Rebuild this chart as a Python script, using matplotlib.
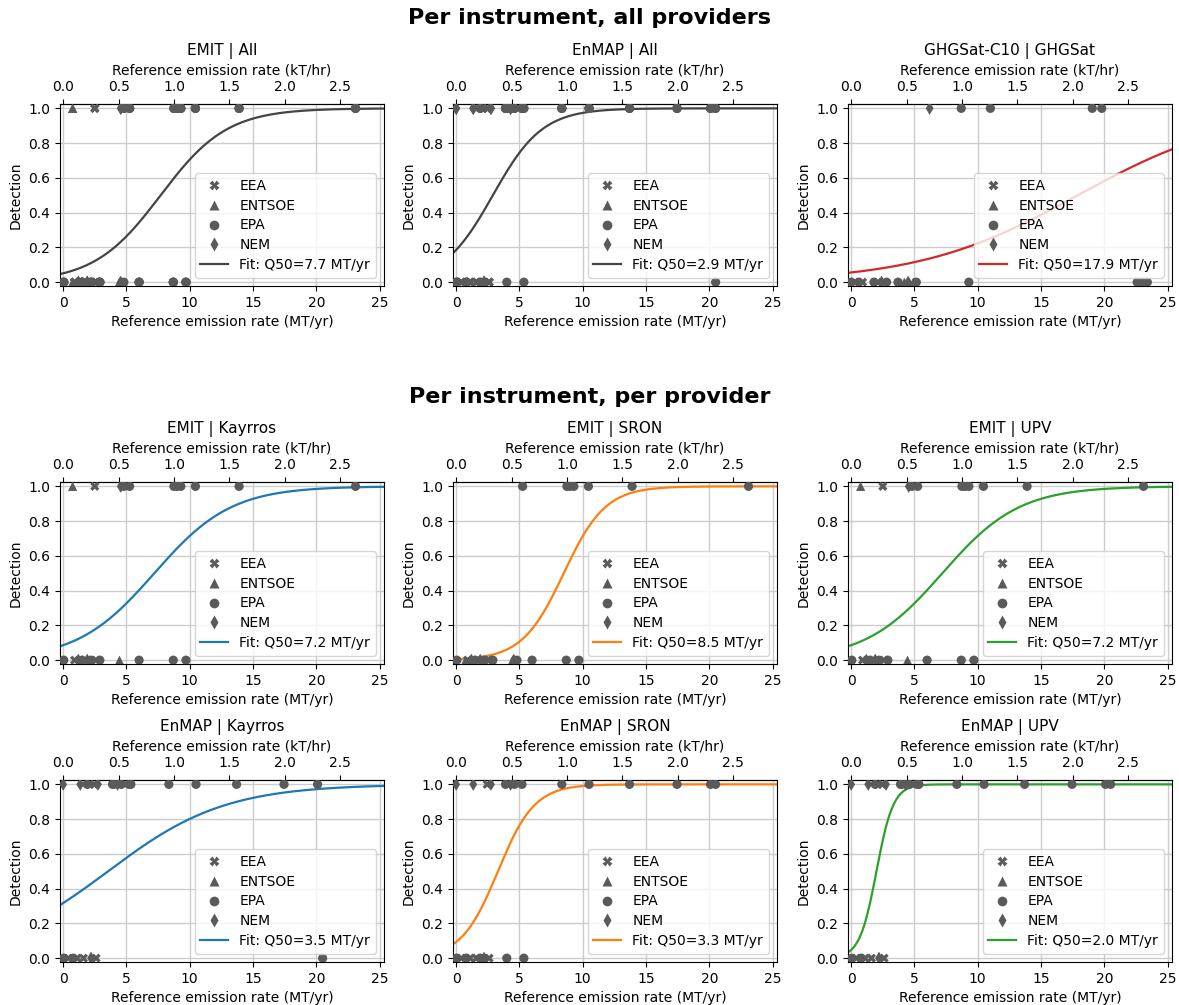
import numpy as np
import matplotlib
matplotlib.use("Agg")
import matplotlib.pyplot as plt
from matplotlib.lines import Line2D

plt.rcParams["font.family"] = ["DejaVu Sans"]
plt.rcParams["font.size"] = 10

# ---------------- data ----------------
SOURCES = ["EEA", "ENTSOE", "EPA", "NEM"]
MARKERS = ["X", "^", "o", "d"]

# EMIT plants: reference emission rate (MT/yr), source, detection per provider
EMIT_X = [0.05, 0.75, 0.9, 1.2, 1.5, 1.7, 1.9, 2.2, 2.5, 2.6, 2.9, 4.45, 4.55, 4.8,
          5.25, 6.0, 8.7, 8.75, 9.0, 9.3, 9.7, 10.45, 13.9, 23.1]
EMIT_SRC = ["EPA", "ENTSOE", "EEA", "NEM", "EPA", "EEA", "NEM", "EPA", "EEA", "EEA", "EPA",
            "ENTSOE", "NEM", "EPA", "EPA", "EPA", "EPA", "EPA", "EPA", "EPA", "EPA",
            "EPA", "EPA", "EPA"]
EMIT_KAYRROS = [0, 1, 0, 0, 0, 0, 0, 0, 1, 0, 0, 0, 1, 1, 1, 0, 0, 1, 1, 1, 0, 1, 1, 1]
EMIT_SRON    = [0, 0, 0, 0, 0, 0, 0, 0, 0, 0, 0, 0, 0, 0, 1, 0, 0, 1, 1, 1, 0, 1, 1, 1]
EMIT_UPV     = [0, 1, 0, 0, 0, 0, 0, 0, 1, 0, 0, 0, 1, 1, 1, 0, 0, 1, 1, 1, 0, 1, 1, 1]

# EnMAP plants
ENMAP_X = [0.0, 0.05, 0.4, 0.8, 1.1, 1.35, 1.6, 1.9, 2.1, 2.2, 2.45, 2.6, 2.75, 3.9,
           4.0, 4.3, 4.6, 5.2, 5.35, 8.35, 10.5, 13.7, 17.45, 20.1, 20.5]
ENMAP_SRC = ["NEM", "EPA", "EEA", "EPA", "EEA", "NEM", "EEA", "EPA", "EEA", "NEM", "EEA",
             "EEA", "NEM", "EPA", "EPA", "NEM", "EPA", "EPA", "EPA", "EPA", "EPA", "EPA",
             "EPA", "EPA", "EPA"]
ENMAP_KAYRROS = [1, 0, 0, 0, 0, 1, 0, 1, 1, 0, 1, 0, 1, 1, 1, 1, 1, 1, 1, 1, 1, 1, 1, 1, 0]
ENMAP_SRON    = [1, 0, 0, 0, 0, 1, 0, 0, 0, 0, 1, 0, 1, 1, 0, 1, 1, 1, 0, 1, 1, 1, 1, 1, 1]
ENMAP_UPV     = [1, 0, 0, 0, 0, 1, 0, 1, 1, 0, 1, 0, 1, 1, 1, 1, 1, 1, 1, 1, 1, 1, 1, 1, 1]

# GHGSat-C10 plants
GHG_X = [0.0, 0.3, 0.6, 0.9, 1.8, 2.1, 2.4, 2.8, 3.7, 4.2, 4.5, 4.9, 5.15, 6.2, 8.7,
         9.3, 11.0, 19.05, 19.8, 22.6, 23.0, 23.4]
GHG_SRC = ["EPA", "EEA", "EPA", "EEA", "EPA", "EEA", "NEM", "EPA", "EPA", "ENTSOE", "NEM",
           "ENTSOE", "EPA", "NEM", "EPA", "EPA", "EPA", "EPA", "EPA", "EPA", "EPA", "EPA"]
GHG_DET = [0, 0, 0, 0, 0, 0, 0, 0, 0, 0, 0, 0, 0, 1, 1, 0, 1, 1, 1, 0, 0, 0]

# fits: label Q50, curve centre and slope
TOP_TITLES = ["EMIT | All", "EnMAP | All", "GHGSat-C10 | GHGSat"]
TOP_Q50 = [7.7, 2.9, 17.9]
TOP_CENTER = [7.7, 2.9, 17.9]
TOP_SLOPE = [0.38, 0.51, 0.158]
TOP_COLORS = ["#444444", "#444444", "#d62728"]

PROVIDERS = ["Kayrros", "SRON", "UPV"]
PROV_COLORS = ["#1f77b4", "#ff7f0e", "#2ca02c"]
EMIT_Q50 = [7.2, 8.5, 7.2]
EMIT_CENTER = [7.2, 8.5, 7.2]
EMIT_SLOPE = [0.328, 0.607, 0.328]
ENMAP_Q50 = [3.5, 3.3, 2.0]
ENMAP_CENTER = [3.55, 3.3, 2.0]
ENMAP_SLOPE = [0.216, 0.69, 1.5]

TOP_TICKS = [0.0, 0.5, 1.0, 1.5, 2.0, 2.5]
BOTTOM_TICKS = [0, 5, 10, 15, 20, 25]
Y_TICKS = [0, 0.2, 0.4, 0.6, 0.8, 1.0]

# ---------------- drawing ----------------
GRAY = "#5a5a5a"
XLIM = (-0.25, 25.35)
YLIM = (-0.022, 1.025)

fig = plt.figure(figsize=(11.79, 10.05), dpi=100)
LEFTS = [60 / 1179, 453 / 1179, 848 / 1179]
WIDTH = 324 / 1179
BOTTOMS = [1 - 286 / 1005, 1 - 664 / 1005, 1 - 962 / 1005]
HEIGHT = 182 / 1005


def draw(ax, xs_list, det_list, src_list, title, q50, center, slope, color):
    for s, m in zip(SOURCES, MARKERS):
        px, py = [], []
        for xs, det, src in zip(xs_list, det_list, src_list):
            for xv, dv, sv in zip(xs, det, src):
                if sv == s:
                    px.append(xv)
                    py.append(dv)
        if px:
            ax.scatter(px, py, marker=m, s=44, color=GRAY, edgecolors="none", zorder=3)
    xx = np.linspace(XLIM[0], XLIM[1], 400)
    ax.plot(xx, 1 / (1 + np.exp(-slope * (xx - center))), color=color, lw=1.6, zorder=2)
    ax.set_xlim(*XLIM)
    ax.set_ylim(*YLIM)
    ax.set_yticks(Y_TICKS)
    ax.set_xticks(BOTTOM_TICKS)
    ax.grid(True, color="#cccccc", lw=1.0)
    ax.set_axisbelow(True)
    ax.set_xlabel("Reference emission rate (MT/yr)")
    ax.set_ylabel("Detection")
    sec = ax.secondary_xaxis("top", functions=(lambda v: v / 8.76, lambda v: v * 8.76))
    sec.set_xticks(TOP_TICKS)
    sec.set_xlabel("Reference emission rate (kT/hr)")
    ax.set_title(title, fontsize=11)
    handles = [Line2D([], [], ls="none", marker=m, color=GRAY, markersize=7,
                      markeredgecolor="none", label=s) for s, m in zip(SOURCES, MARKERS)]
    handles.append(Line2D([], [], color=color, lw=1.6, label=f"Fit: Q50={q50:.1f} MT/yr"))
    ax.legend(handles=handles, loc="lower right", fontsize=10, labelspacing=0.42,
              borderaxespad=0.6)


# Row 1
ax = fig.add_axes([LEFTS[0], BOTTOMS[0], WIDTH, HEIGHT])
draw(ax, [EMIT_X] * 3, [EMIT_KAYRROS, EMIT_SRON, EMIT_UPV], [EMIT_SRC] * 3,
     TOP_TITLES[0], TOP_Q50[0], TOP_CENTER[0], TOP_SLOPE[0], TOP_COLORS[0])
ax = fig.add_axes([LEFTS[1], BOTTOMS[0], WIDTH, HEIGHT])
draw(ax, [ENMAP_X] * 3, [ENMAP_KAYRROS, ENMAP_SRON, ENMAP_UPV], [ENMAP_SRC] * 3,
     TOP_TITLES[1], TOP_Q50[1], TOP_CENTER[1], TOP_SLOPE[1], TOP_COLORS[1])
ax = fig.add_axes([LEFTS[2], BOTTOMS[0], WIDTH, HEIGHT])
draw(ax, [GHG_X], [GHG_DET], [GHG_SRC],
     TOP_TITLES[2], TOP_Q50[2], TOP_CENTER[2], TOP_SLOPE[2], TOP_COLORS[2])

# Row 2 (EMIT per provider)
for i, det in enumerate([EMIT_KAYRROS, EMIT_SRON, EMIT_UPV]):
    ax = fig.add_axes([LEFTS[i], BOTTOMS[1], WIDTH, HEIGHT])
    draw(ax, [EMIT_X], [det], [EMIT_SRC], f"EMIT | {PROVIDERS[i]}",
         EMIT_Q50[i], EMIT_CENTER[i], EMIT_SLOPE[i], PROV_COLORS[i])

# Row 3 (EnMAP per provider)
for i, det in enumerate([ENMAP_KAYRROS, ENMAP_SRON, ENMAP_UPV]):
    ax = fig.add_axes([LEFTS[i], BOTTOMS[2], WIDTH, HEIGHT])
    draw(ax, [ENMAP_X], [det], [ENMAP_SRC], f"EnMAP | {PROVIDERS[i]}",
         ENMAP_Q50[i], ENMAP_CENTER[i], ENMAP_SLOPE[i], PROV_COLORS[i])

fig.text(0.5, 1 - 18 / 1005, "Per instrument, all providers", ha="center", va="center",
         fontsize=16, fontweight="bold")
fig.text(0.5, 1 - 397 / 1005, "Per instrument, per provider", ha="center", va="center",
         fontsize=16, fontweight="bold")

fig.savefig("out.png", dpi=100)
